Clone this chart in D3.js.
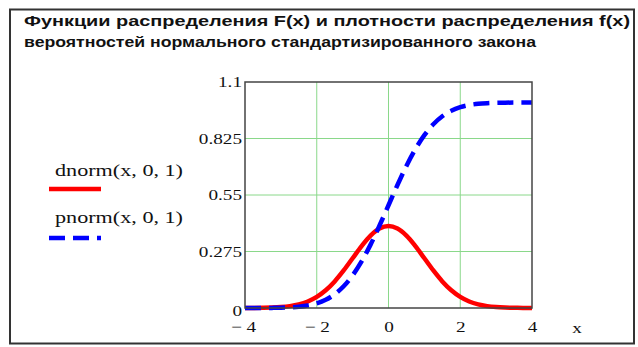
<!DOCTYPE html>
<html><head><meta charset="utf-8">
<script src="https://cdn.jsdelivr.net/npm/d3@7"></script>
<style>
html,body{margin:0;padding:0;background:#fff;}
svg{display:block;}
</style></head>
<body>
<svg id="chart" width="638" height="347"></svg>
<script>
const titleLines = ["Функции распределения F(x) и плотности распределения f(x)",
                    "вероятностей нормального стандартизированного закона"];
const xValues = [-4,-3.75,-3.5,-3.25,-3,-2.75,-2.5,-2.25,-2,-1.75,-1.5,-1.25,-1,-0.75,-0.5,-0.25,0,
                 0.25,0.5,0.75,1,1.25,1.5,1.75,2,2.25,2.5,2.75,3,3.25,3.5,3.75,4];
const dnormValues = [0.0001,0.0004,0.0009,0.0020,0.0044,0.0091,0.0175,0.0317,0.0540,0.0863,0.1295,0.1826,0.2420,0.3011,0.3521,0.3867,0.3989,
                     0.3867,0.3521,0.3011,0.2420,0.1826,0.1295,0.0863,0.0540,0.0317,0.0175,0.0091,0.0044,0.0020,0.0009,0.0004,0.0001];
const pnormValues = [0.0000,0.0001,0.0002,0.0006,0.0013,0.0030,0.0062,0.0122,0.0228,0.0401,0.0668,0.1056,0.1587,0.2266,0.3085,0.4013,0.5000,
                     0.5987,0.6915,0.7734,0.8413,0.8944,0.9332,0.9599,0.9772,0.9878,0.9938,0.9970,0.9987,0.9994,0.9998,0.9999,1.0000];
const seriesNames = ["dnorm(x, 0, 1)", "pnorm(x, 0, 1)"];
const xTicks = [-4,-2,0,2,4];
const yTicks = [0,0.275,0.55,0.825,1.1];
const yTickLabels = ["0","0.275","0.55","0.825","1.1"];
const xTickLabels = ["\u2212 4","\u2212 2","0","2","4"];
const xAxisName = "x";

const svg = d3.select("#chart");
const L = 245, R = 532, T = 82, B = 308;
const x = d3.scaleLinear().domain([-4,4]).range([L,R]);
const y = d3.scaleLinear().domain([0,1.1]).range([B,T]);
const serif = "'Liberation Serif','Times New Roman',serif";
const sx = 1.28;

// outer frame
svg.append("rect").attr("x",10).attr("y",9.5).attr("width",624).attr("height",334)
  .attr("fill","none").attr("stroke","#333").attr("stroke-width",2);

// title
const tl = [606, 512];
titleLines.forEach((t,i)=>{
  svg.append("text").attr("x",24).attr("y",26+i*21)
    .attr("font-family","'Liberation Sans',Arial,sans-serif").attr("font-weight","bold")
    .attr("font-size",14).attr("fill","#111")
    .attr("textLength",tl[i]).attr("lengthAdjust","spacingAndGlyphs").text(t);
});

// grid
const g = svg.append("g");
g.selectAll(".gx").data(xTicks.filter(d=>d>-4&&d<4)).enter().append("line")
  .attr("x1",d=>x(d)).attr("x2",d=>x(d)).attr("y1",T).attr("y2",B)
  .attr("stroke","#8ad88a").attr("stroke-width",1);
g.selectAll(".gy").data(yTicks.filter(d=>d>0&&d<1.1)).enter().append("line")
  .attr("x1",L).attr("x2",R).attr("y1",d=>y(d)).attr("y2",d=>y(d))
  .attr("stroke","#8ad88a").attr("stroke-width",1);

// axes
const ya = svg.append("g").attr("transform",`translate(${L-3},0)`)
  .call(d3.axisLeft(y).tickValues(yTicks).tickSize(0).tickPadding(0)
        .tickFormat((d,i)=>yTickLabels[i]));
const xa = svg.append("g").attr("transform",`translate(0,${B})`)
  .call(d3.axisBottom(x).tickValues(xTicks).tickSize(0).tickPadding(13)
        .tickFormat((d,i)=>xTickLabels[i]));
[ya,xa].forEach(a=>{
  a.select(".domain").remove();
  a.selectAll("text").attr("font-family",serif).attr("font-size",15).attr("fill","#111")
    .attr("transform",`scale(${sx},1)`);
});
ya.selectAll(".tick").filter((d,i)=>i===0).select("text").attr("dy","0.5em");
xa.selectAll(".tick").filter((d,i)=>i===0).select("text").attr("x",-2/sx);

svg.append("text").attr("x",577).attr("y",333).attr("text-anchor","middle")
  .attr("font-family",serif).attr("font-size",15).attr("fill","#111")
  .attr("transform",`translate(577,0) scale(${sx},1) translate(-577,0)`).text(xAxisName);

// lines
const clipId = "clip";
svg.append("clipPath").attr("id",clipId).append("rect")
  .attr("x",L).attr("y",T-3).attr("width",R-L).attr("height",B-T+6);
const line = vals => d3.line().x((d,i)=>x(xValues[i])).y(d=>y(d)).curve(d3.curveCatmullRom)(vals);
svg.append("path").attr("d",line(dnormValues)).attr("fill","none")
  .attr("stroke","#ff0000").attr("stroke-width",4.5).attr("clip-path",`url(#${clipId})`);
svg.append("path").attr("d",line(pnormValues)).attr("fill","none")
  .attr("stroke","#0000ff").attr("stroke-width",4.5).attr("stroke-dasharray","16,8")
  .attr("clip-path",`url(#${clipId})`);

// plot frame
svg.append("rect").attr("x",L).attr("y",T).attr("width",R-L).attr("height",B-T)
  .attr("fill","none").attr("stroke","#444").attr("stroke-width",1.5);

// legend
const legY = [176, 223];
const legLineY = [189, 238];
const colors = ["#ff0000","#0000ff"];
seriesNames.forEach((n,i)=>{
  svg.append("text").attr("x",55).attr("y",legY[i]).attr("font-family",serif)
    .attr("font-size",16).attr("fill","#111")
    .attr("textLength",128).attr("lengthAdjust","spacingAndGlyphs").text(n);
  svg.append("line").attr("x1",49).attr("x2",101).attr("y1",legLineY[i]).attr("y2",legLineY[i])
    .attr("stroke",colors[i]).attr("stroke-width",4.5)
    .attr("stroke-dasharray", i===1 ? "16,8" : null);
});
</script>
</body></html>
